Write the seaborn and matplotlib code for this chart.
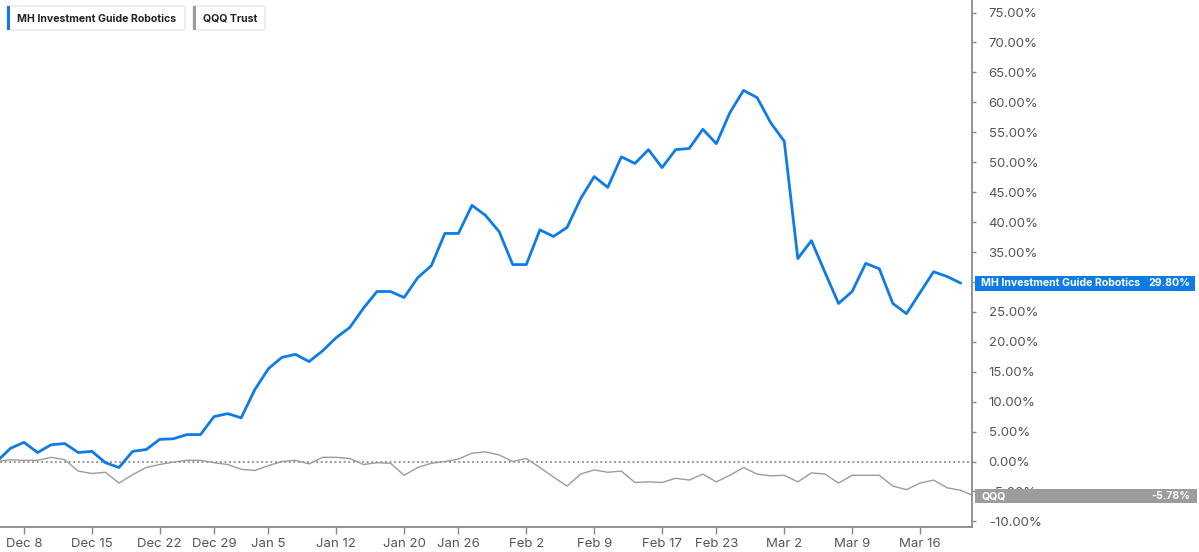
import pandas as pd
import numpy as np
import matplotlib
matplotlib.use("Agg")
import matplotlib.pyplot as plt
from matplotlib.patches import Rectangle, FancyBboxPatch
import seaborn as sns

# trading days Dec 4 2025 .. Mar 20 2026 (US market holidays removed)
holidays = ["2025-12-25", "2026-01-01", "2026-01-19", "2026-02-16"]
days = pd.bdate_range("2025-12-04", "2026-03-20")
days = days[~days.isin(pd.to_datetime(holidays))]

robotics = [0.0, 2.2, 3.2, 1.5, 2.8, 3.0, 1.5, 1.7, -0.2, -1.0,
            1.7, 2.0, 3.7, 3.8, 4.5, 4.5, 7.5, 8.0, 7.3, 12.0,
            15.5, 17.4, 17.9, 16.7, 18.5, 20.7, 22.4, 25.6, 28.4, 28.4,
            27.4, 30.7, 32.7, 38.1, 38.1, 42.8, 41.1, 38.4, 32.9, 32.9,
            38.7, 37.6, 39.1, 43.9, 47.6, 45.8, 50.9, 49.8, 52.1, 49.1,
            52.1, 52.3, 55.5, 53.1, 58.3, 62.0, 60.8, 56.6, 53.5, 33.9,
            36.9, 31.6, 26.4, 28.4, 33.1, 32.2, 26.4, 24.7, 28.2, 31.7,
            30.9, 29.8]

qqq = [0.0, 0.3, 0.2, 0.2, 0.7, 0.3, -1.6, -2.0, -1.8, -3.6,
       -2.2, -1.0, -0.5, -0.1, 0.2, 0.2, -0.2, -0.5, -1.3, -1.5,
       -0.7, 0.0, 0.2, -0.4, 0.7, 0.7, 0.5, -0.5, -0.2, -0.3,
       -2.3, -1.0, -0.3, 0.0, 0.4, 1.4, 1.6, 1.1, 0.0, 0.5,
       -1.0, -2.6, -4.1, -2.1, -1.4, -1.8, -1.6, -3.5, -3.4, -3.5,
       -2.8, -3.1, -2.1, -3.4, -2.3, -1.0, -2.1, -2.4, -2.3, -3.4,
       -1.9, -2.1, -3.6, -2.3, -2.3, -2.3, -4.1, -4.7, -3.6, -3.1,
       -4.4, -4.8, -5.78]

tick_dates = ["2025-12-08", "2025-12-15", "2025-12-22", "2025-12-29", "2026-01-05",
              "2026-01-12", "2026-01-20", "2026-01-26", "2026-02-02", "2026-02-09",
              "2026-02-17", "2026-02-23", "2026-03-02", "2026-03-09", "2026-03-16"]
tick_labels = ["Dec 8", "Dec 15", "Dec 22", "Dec 29", "Jan 5", "Jan 12", "Jan 20",
               "Jan 26", "Feb 2", "Feb 9", "Feb 17", "Feb 23", "Mar 2", "Mar 9", "Mar 16"]

series_names = ["MH Investment Guide Robotics", "QQQ Trust"]
last_robotics = "29.80%"
last_qqq = "-5.78%"

BLUE = "#0f7be6"
GREY = "#9c9c9c"

df = pd.concat([
    pd.DataFrame({"idx": np.arange(len(robotics)), "pct": robotics, "series": series_names[0]}),
    pd.DataFrame({"idx": np.arange(len(qqq)), "pct": qqq, "series": series_names[1]}),
])

sns.set_theme(style="white")
plt.rcParams["font.family"] = ["Inter", "DejaVu Sans"]

W, H = 1199, 552
fig = plt.figure(figsize=(W / 100, H / 100), dpi=100)
ax = fig.add_axes([0, (H - 527) / H, 972 / W, 527 / H])

ax.axhline(0, color="#777777", lw=1.1, ls=(0, (1.2, 1.8)), zorder=1)
sns.lineplot(data=df, x="idx", y="pct", hue="series", palette=[BLUE, GREY],
             legend=False, ax=ax, zorder=3)
ax.lines[1].set_linewidth(2.0)
ax.lines[2].set_linewidth(1.0)

ax.set_xlim(0.232, 71.83)
ax.set_ylim(-10.94, 77.1)

pos = [days.get_loc(pd.Timestamp(d)) for d in tick_dates]
ax.set_xticks(pos)
ax.set_xticklabels(tick_labels)
yt = np.arange(-10, 80, 5)
ax.set_yticks(yt)
ax.set_yticklabels([f"{v:.2f}%" for v in yt])
ax.yaxis.tick_right()
ax.tick_params(axis="x", length=5, width=1, color="#888888", labelsize=9.5,
               labelcolor="#555555", pad=3, bottom=True)
ax.tick_params(axis="y", length=3, width=1, color="#888888", labelsize=9.5,
               labelcolor="#555555", pad=9, right=True, left=False)
ax.set_xlabel("")
ax.set_ylabel("")
for s in ["top", "left"]:
    ax.spines[s].set_visible(False)
for s in ["bottom", "right"]:
    ax.spines[s].set_color("#8a8a8a")
    ax.spines[s].set_linewidth(1.3)


def px_rect(x0, y0, x1, y1, **kw):
    r = Rectangle((x0 / W, 1 - y1 / H), (x1 - x0) / W, (y1 - y0) / H,
                  transform=fig.transFigure, **kw)
    fig.add_artist(r)


def px_text(x, y, s, **kw):
    fig.text(x / W, 1 - y / H, s, **kw)


# value tags on the right axis
px_rect(975, 276, 1195, 291, facecolor=BLUE, edgecolor="none", zorder=5)
px_text(981, 283.5, series_names[0], color="white", fontsize=7.6, fontweight="bold",
        va="center", ha="left", zorder=6)
px_text(1190, 283.5, last_robotics, color="white", fontsize=7.6, fontweight="bold",
        va="center", ha="right", zorder=6)
px_rect(975, 489, 1197, 503, facecolor=GREY, edgecolor="none", zorder=5)
px_text(981, 496, "QQQ", color="white", fontsize=7.6, fontweight="bold",
        va="center", ha="left", zorder=6)
px_text(1190, 496, last_qqq, color="white", fontsize=7.6, fontweight="bold",
        va="center", ha="right", zorder=6)

# legend chips
for (x0, x1, col, name) in [(7, 185, BLUE, series_names[0]), (193, 265, GREY, series_names[1])]:
    box = FancyBboxPatch((x0 / W, 1 - 30 / H), (x1 - x0) / W, 24 / H,
                         boxstyle="round,pad=0,rounding_size=0.003",
                         transform=fig.transFigure, facecolor="white",
                         edgecolor="#e3e3e3", lw=0.8, zorder=5)
    fig.add_artist(box)
    px_rect(x0, 6, x0 + 3, 30, facecolor=col, edgecolor="none", zorder=6)
    px_text(x0 + 10, 18.5, name, color="#222222", fontsize=7.6, fontweight="bold",
            va="center", ha="left", zorder=7)

fig.savefig("out.png", dpi=100)
